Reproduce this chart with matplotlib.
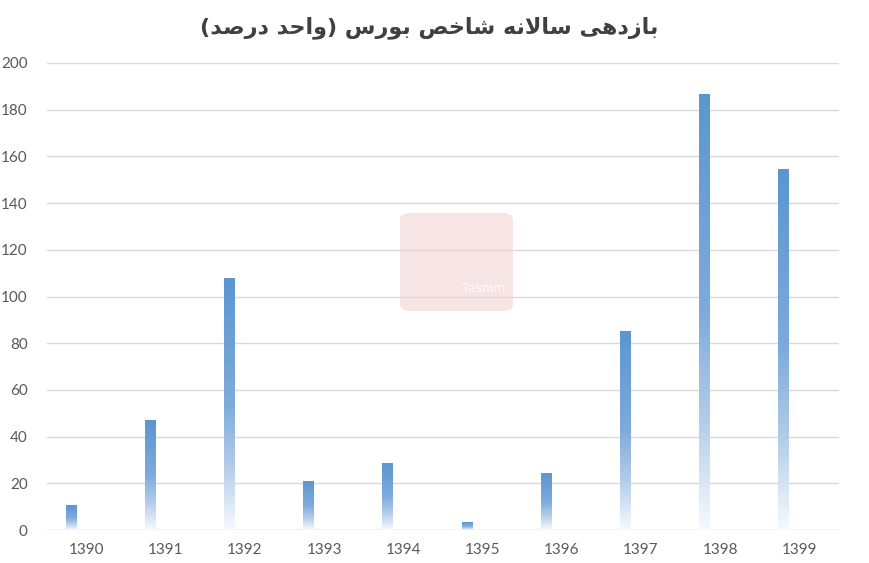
import numpy as np
import matplotlib.pyplot as plt
from matplotlib.colors import LinearSegmentedColormap
from matplotlib.patches import FancyBboxPatch

# DATA
years = ["1390", "1391", "1392", "1393", "1394", "1395", "1396", "1397", "1398", "1399"]
returns = [10.7, 46.7, 107.5, 20.6, 28.3, 3.4, 24.4, 85.2, 186.7, 154.6]
yticks = [0, 20, 40, 60, 80, 100, 120, 140, 160, 180, 200]
title_fa = "بازدهی سالانه شاخص بورس (واحد درصد)"


# simple persian shaping (matplotlib does no arabic shaping / bidi)
# forms: isolated, final, initial, medial
FORMS = {
    "ا": ("\uFE8D", "\uFE8E", None, None),
    "ب": ("\uFE8F", "\uFE90", "\uFE91", "\uFE92"),
    "ح": ("\uFEA1", "\uFEA2", "\uFEA3", "\uFEA4"),
    "خ": ("\uFEA5", "\uFEA6", "\uFEA7", "\uFEA8"),
    "د": ("\uFEA9", "\uFEAA", None, None),
    "ر": ("\uFEAD", "\uFEAE", None, None),
    "ز": ("\uFEAF", "\uFEB0", None, None),
    "س": ("\uFEB1", "\uFEB2", "\uFEB3", "\uFEB4"),
    "ش": ("\uFEB5", "\uFEB6", "\uFEB7", "\uFEB8"),
    "ص": ("\uFEB9", "\uFEBA", "\uFEBB", "\uFEBC"),
    "ل": ("\uFEDD", "\uFEDE", "\uFEDF", "\uFEE0"),
    "ن": ("\uFEE5", "\uFEE6", "\uFEE7", "\uFEE8"),
    "ه": ("\uFEE9", "\uFEEA", "\uFEEB", "\uFEEC"),
    "و": ("\uFEED", "\uFEEE", None, None),
    "ی": ("\uFEEF", "\uFEF0", "\uFEF3", "\uFEF4"),
    "لا": ("\uFEFB", "\uFEFC", None, None),
}


def shape(text):
    # merge lam-alef
    chars = []
    i = 0
    while i < len(text):
        if text[i] == "ل" and i + 1 < len(text) and text[i + 1] == "ا":
            chars.append("لا")
            i += 2
        else:
            chars.append(text[i])
            i += 1
    out = []
    for k, c in enumerate(chars):
        if c not in FORMS:
            out.append(c)
            continue
        prev = chars[k - 1] if k > 0 else None
        nxt = chars[k + 1] if k + 1 < len(chars) else None
        join_prev = prev in FORMS and FORMS[prev][2] is not None
        join_next = nxt in FORMS and FORMS[c][2] is not None
        iso, fin, ini, med = FORMS[c]
        if join_prev and join_next:
            out.append(med)
        elif join_prev:
            out.append(fin)
        elif join_next:
            out.append(ini)
        else:
            out.append(iso)
    s = "".join(out)[::-1]
    return s.translate(str.maketrans("()", ")("))


fig = plt.figure(figsize=(8.69, 5.63), dpi=100)
ax = fig.add_axes([47 / 869, 1 - 530 / 563, 792 / 869, 467 / 563])

x = np.arange(len(years))
bar_w = 0.13
off = -0.2

cmap = LinearSegmentedColormap.from_list(
    "g", [(0.0, "#f7fafd"), (0.25, "#b3cde9"), (0.5, "#7eabdc"), (1.0, "#5b96d0")]
)
grad = np.linspace(0, 1, 256).reshape(-1, 1)
for xi, v in zip(x, returns):
    ax.imshow(grad, cmap=cmap, origin="lower", aspect="auto",
              extent=[xi + off - bar_w / 2, xi + off + bar_w / 2, 0, v],
              zorder=3, interpolation="bilinear")

ax.set_xlim(-0.5, len(years) - 0.5)
ax.set_ylim(0, 200)
ax.set_xticks(x)
ax.set_xticklabels(years)
ax.set_yticks(yticks)
ax.grid(axis="y", color="#d9d9d9", linewidth=1)
ax.set_axisbelow(True)
for s in ["top", "right", "left", "bottom"]:
    ax.spines[s].set_visible(False)
ax.axhline(0, color="#d9d9d9", linewidth=1, zorder=2)
ax.tick_params(length=0, labelsize=11, labelcolor="#595959", pad=9)
for lab in ax.get_xticklabels() + ax.get_yticklabels():
    lab.set_family("Lato")
ax.tick_params(axis="y", pad=14)

# watermark
wm = FancyBboxPatch((400 / 869, 1 - 311 / 563), 113 / 869, 98 / 563,
                    boxstyle="round,pad=0,rounding_size=0.012",
                    transform=fig.transFigure, facecolor="#f3d3d3",
                    edgecolor="none", alpha=0.6, zorder=5)
fig.patches.append(wm)
fig.text(484 / 869, 1 - 288 / 563, "Tasnim", color="white", fontsize=9,
         ha="center", va="center", alpha=0.9, zorder=6)

fig.text(429 / 869, 1 - 28 / 563, shape(title_fa), ha="center", va="center",
         fontsize=16, fontweight="bold", color="#404040", family="DejaVu Sans")

fig.savefig("out.png", dpi=100)
